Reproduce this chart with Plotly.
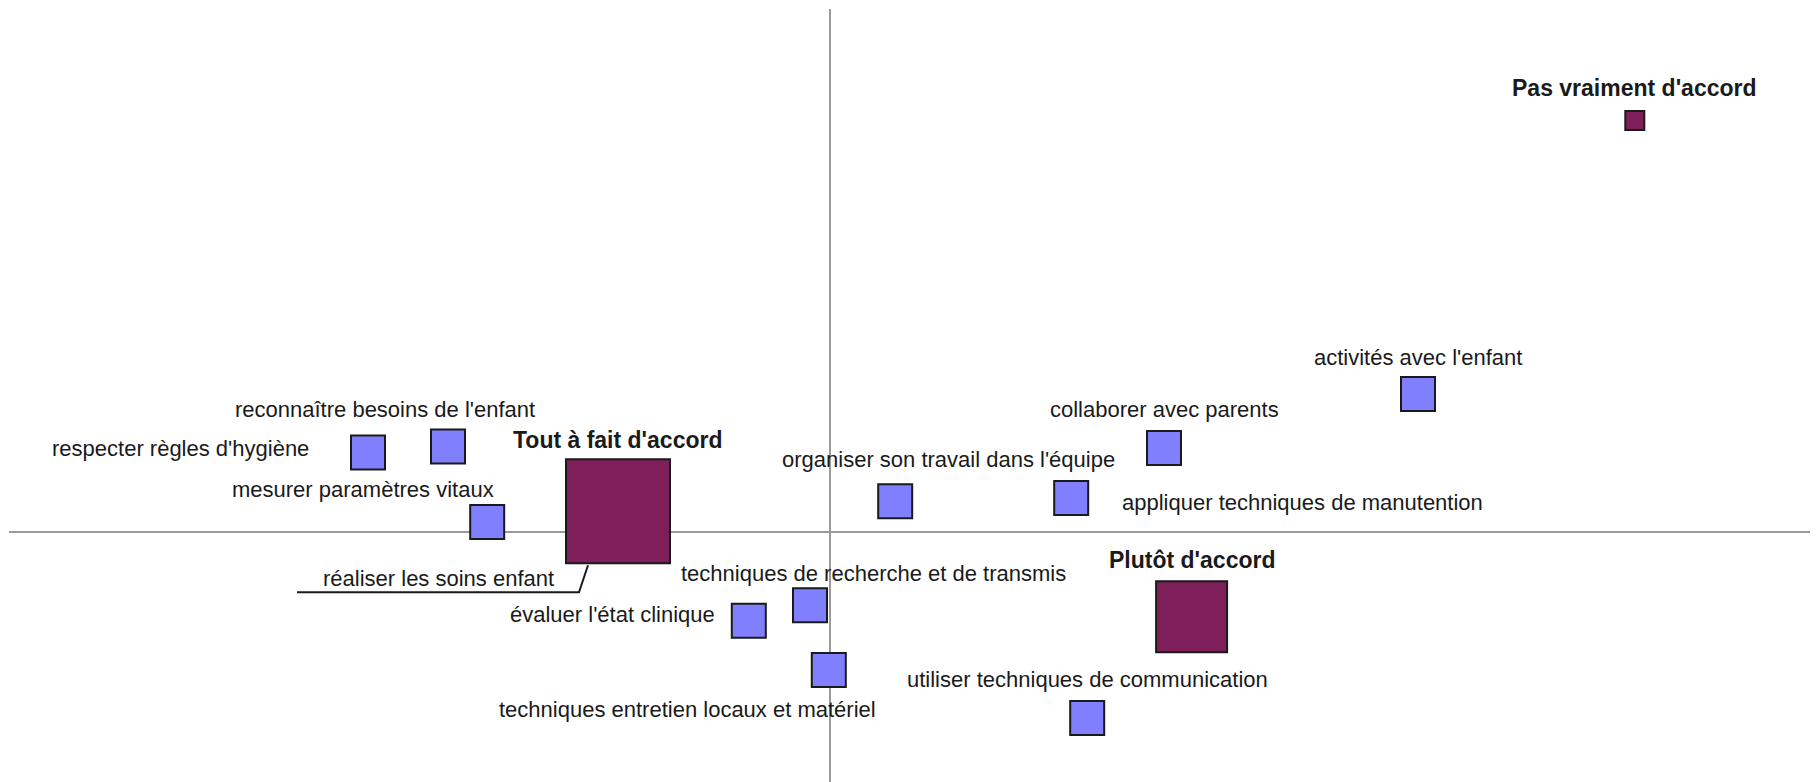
import plotly.graph_objects as go

items = [
    "respecter règles d'hygiène",
    "reconnaître besoins de l'enfant",
    "mesurer paramètres vitaux",
    "réaliser les soins enfant",
    "organiser son travail dans l'équipe",
    "appliquer techniques de manutention",
    "collaborer avec parents",
    "activités avec l'enfant",
    "techniques de recherche et de transmis",
    "évaluer l'état clinique",
    "techniques entretien locaux et matériel",
    "utiliser techniques de communication",
]
items_f1 = [-1.155, -0.955, -0.857, -0.53, 0.163, 0.603, 0.835, 1.47, -0.05, -0.203, -0.003, 0.643]
items_f2 = [0.199, 0.214, 0.025, 0.052, 0.077, 0.085, 0.21, 0.345, -0.183, -0.222, -0.345, -0.465]

reponses = ["Tout à fait d'accord", "Plutôt d'accord", "Pas vraiment d'accord"]
reponses_f1 = [-0.53, 0.904, 2.012]
reponses_f2 = [0.052, -0.212, 1.029]

# style
PX = 400  # pixels par unité
item_col = "#8080FF"
rep_col = "#7F1F5A"
rep_sizes = [104, 71, 19]
item_offsets = [(-188, 4), (-63, 37), (-124, 33), (-180, -67), (53, 42), (231, -4),
                (0, 39), (0, 37), (63, 32), (-136, 6), (-141, -39), (0, 39)]
rep_offsets = [(0, 71), (0, 57), (0, 32)]

fig = go.Figure()

fig.add_trace(go.Scatter(
    x=items_f1, y=items_f2, mode="markers",
    marker=dict(symbol="square", size=34, color=item_col, opacity=1,
                line=dict(color="#1a1a1a", width=2)),
    hovertext=items, hoverinfo="text", showlegend=False,
))
fig.add_trace(go.Scatter(
    x=reponses_f1, y=reponses_f2, mode="markers",
    marker=dict(symbol="square", size=rep_sizes, color=rep_col, opacity=1,
                line=dict(color="#1a1a1a", width=2)),
    hovertext=reponses, hoverinfo="text", showlegend=False,
))

for name, x, y, (dx, dy) in zip(items, items_f1, items_f2, item_offsets):
    fig.add_annotation(x=x, y=y, text=name, showarrow=False, xshift=dx, yshift=dy,
                       xanchor="center", yanchor="middle",
                       font=dict(family="Liberation Sans, Arial", size=22, color="#1a1a1a"))
for name, x, y, (dx, dy) in zip(reponses, reponses_f1, reponses_f2, rep_offsets):
    fig.add_annotation(x=x, y=y, text="<b>" + name + "</b>", showarrow=False, xshift=dx, yshift=dy,
                       xanchor="center", yanchor="middle",
                       font=dict(family="Liberation Sans, Arial", size=23, color="#1a1a1a"))

# trait de rappel pour "réaliser les soins enfant" (caché sous le grand carré)
i = items.index("réaliser les soins enfant")
fig.add_shape(type="path", xref="x", yref="y", xsizemode="pixel", ysizemode="pixel",
              xanchor=items_f1[i], yanchor=items_f2[i],
              path="M -30 -54 L -39 -81 L -321 -81",
              line=dict(color="#1a1a1a", width=2), layer="above")

axis = dict(showgrid=False, showticklabels=False, ticks="", showline=False,
            zeroline=True, zerolinecolor="#9a9a9a", zerolinewidth=2)
# la page ajoute 8 px de marge au body : la zone de tracé va de 9 px au bord droit/bas
fig.update_layout(
    width=1810, height=774,
    margin=dict(l=1, r=0, t=1, b=0),
    plot_bgcolor="white", paper_bgcolor="white",
    xaxis=dict(axis, range=[-(830 - 9) / PX, (1818 - 830) / PX]),
    yaxis=dict(axis, range=[-(782 - 532) / PX, (532 - 9) / PX]),
)

fig.write_html("out.html")
